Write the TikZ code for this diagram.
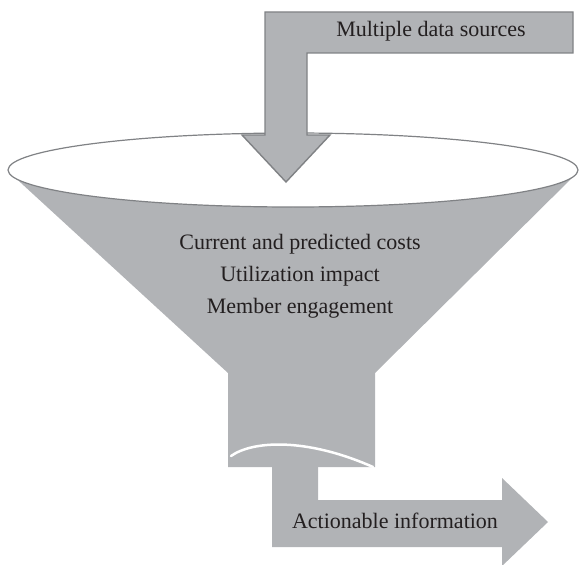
\documentclass[tikz,border=0pt]{standalone}
\usepackage{fontspec}
\setmainfont{Liberation Serif}
\usetikzlibrary{positioning}
\definecolor{fun}{HTML}{B1B3B6}
\definecolor{edge}{HTML}{808285}
\definecolor{ink}{HTML}{231F20}
\tikzset{
  body/.style={fill=fun, draw=none},
  mouth/.style={fill=white, draw=edge, line width=1.2pt},
  inflow/.style={fill=fun, draw=edge, line width=1.4pt, line join=miter},
  outflow/.style={fill=fun, draw=none},
  lip/.style={draw=white, line width=2.5pt, line cap=round},
  lbl/.style={font=\fontsize{22}{32}\selectfont, text=ink, align=center, inner sep=0pt},
}
\begin{document}
\begin{tikzpicture}[x=1pt, y=-1pt]
  \useasboundingbox (0,0) rectangle (580,564);
  % funnel cone and neck
  \fill[body] (9,172) -- (578,172) -- (375,373) -- (375,467) -- (228,467) -- (228,373) -- cycle;
  \draw[lip] (231,456) .. controls (252,441) and (305,437) .. (373,467);
  % open top
  \draw[mouth] (293,170) ellipse [x radius=285, y radius=37];
  % incoming data
  \draw[inflow] (265,12) -- (573,12) -- (573,53) -- (307,53) -- (307,135) -- (330,135)
    -- (286,182) -- (242,135) -- (265,135) -- cycle;
  % outgoing information
  \fill[outflow] (272,467) -- (318,467) -- (318,500) -- (502,500) -- (502,478)
    -- (548,522) -- (502,566) -- (502,547) -- (272,547) -- cycle;
  \node[lbl] (src) at (431,31) {Multiple data sources};
  \node[lbl] (inside) at (300,276) {Current and predicted costs\\Utilization impact\\Member engagement};
  \node[lbl] (out) at (395,521) {Actionable information};
\end{tikzpicture}
\end{document}
